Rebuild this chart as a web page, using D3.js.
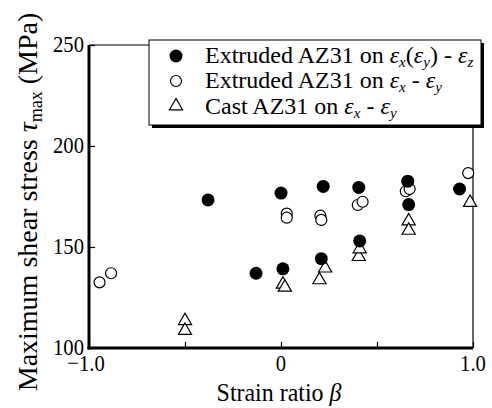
<!DOCTYPE html>
<html>
<head>
<meta charset="utf-8">
<script src="https://cdn.jsdelivr.net/npm/d3@7"></script>
</head>
<body style="margin:0; background:#fff">
<div id="main"></div>
<script>
// Extruded AZ31 on ex(ey) - ez  (filled circles)
var filledBeta = [-0.38, 0.0, -0.13, 0.01, 0.22, 0.405, 0.66, 0.665, 0.93, 0.21, 0.41];
var filledTau  = [173.3, 176.7, 137.0, 139.2, 180.0, 179.5, 182.6, 171.0, 178.7, 144.2, 153.0];

// Extruded AZ31 on ex - ey  (open circles)
var openBeta = [-0.945, -0.885, 0.03, 0.03, 0.205, 0.21, 0.40, 0.425, 0.65, 0.67, 0.975];
var openTau  = [132.5, 137.0, 166.5, 164.5, 165.5, 163.4, 170.8, 172.4, 177.6, 178.7, 186.6];

// Cast AZ31 on ex - ey  (triangles)
var triBeta = [-0.50, -0.50, 0.01, 0.02, 0.20, 0.23, 0.405, 0.41, 0.665, 0.665, 0.985];
var triTau  = [113.5, 108.6, 131.5, 130.0, 133.7, 139.5, 145.2, 149.0, 162.8, 158.2, 172.0];

var xTicks = [-1, -0.5, 0, 0.5, 1];
var xTickLabels = ["\u22121.0", "", "0", "", "1.0"];
var yTicks = [100, 150, 200, 250];

var FONT = "'Liberation Serif', 'Times New Roman', serif";

var W = 492, H = 408;
var margin = { top: 45, left: 89, right: 19, bottom: 60 };
var w = W - margin.left - margin.right,
    h = H - margin.top - margin.bottom;

var svg = d3.select("#main")
  .append("svg")
  .attr("width", W)
  .attr("height", H)
  .style("font-family", FONT);

var g = svg.append("g")
  .attr("transform", "translate(" + margin.left + "," + margin.top + ")");

var x = d3.scaleLinear().domain([-1, 1]).range([0, w]);
var y = d3.scaleLinear().domain([100, 250]).range([h, 0]);

// inward ticks
var xAxis = d3.axisTop(x).tickValues(xTicks).tickSize(6).tickFormat("");
var yAxis = d3.axisRight(y).tickValues(yTicks).tickSize(6).tickFormat("");

g.append("g").attr("transform", "translate(0," + h + ")").call(xAxis)
  .call(function(s) { s.select(".domain").remove(); s.selectAll("line").attr("stroke-width", 1.2); });
g.append("g").call(yAxis)
  .call(function(s) { s.select(".domain").remove(); s.selectAll("line").attr("stroke-width", 1.2); });

// frame: thin top/right, thick left/bottom
g.append("line").attr("x1", 0).attr("x2", w).attr("y1", 0).attr("y2", 0)
  .attr("stroke", "#000").attr("stroke-width", 1.2);
g.append("line").attr("x1", w).attr("x2", w).attr("y1", 0).attr("y2", h)
  .attr("stroke", "#000").attr("stroke-width", 1.2);
g.append("line").attr("x1", 0).attr("x2", 0).attr("y1", 0).attr("y2", h + 1.5)
  .attr("stroke", "#000").attr("stroke-width", 3);
g.append("line").attr("x1", -1.5).attr("x2", w).attr("y1", h).attr("y2", h)
  .attr("stroke", "#000").attr("stroke-width", 3);

// tick labels (slightly condensed like the original)
g.selectAll(".xl").data(xTicks).enter().append("g")
  .attr("transform", function(d) { return "translate(" + (x(d) - (d < 0 ? 3 : 0)) + "," + (h + 23) + ") scale(0.86,1)"; })
  .append("text")
  .style("font-family", FONT)
  .attr("text-anchor", "middle")
  .attr("font-size", 24)
  .text(function(d, i) { return xTickLabels[i]; });

g.selectAll(".yl").data(yTicks).enter().append("g")
  .attr("transform", function(d) { return "translate(-5," + (y(d) + 7) + ") scale(0.86,1)"; })
  .append("text")
  .style("font-family", FONT)
  .attr("text-anchor", "end")
  .attr("font-size", 24)
  .text(function(d) { return d; });

// axis titles
var xt = svg.append("text")
  .style("font-family", FONT)
  .attr("transform", "translate(" + (margin.left + x(0) - 2) + ",401) scale(0.92,1)")
  .attr("text-anchor", "middle")
  .attr("font-size", 26);
xt.append("tspan").text("Strain ratio ");
xt.append("tspan").attr("font-style", "italic").text("\u03b2");

var yt = svg.append("text")
  .style("font-family", FONT)
  .attr("transform", "translate(37,202) rotate(-90)")
  .attr("text-anchor", "middle")
  .attr("font-size", 28);
yt.append("tspan").text("Maximum shear stress ");
yt.append("tspan").attr("font-style", "italic").text("\u03c4");
yt.append("tspan").attr("font-size", 18).attr("dy", 5).text("max");
yt.append("tspan").attr("dy", -5).text(" (MPa)");

// points
var tri = d3.symbol().type(d3.symbolTriangle).size(75);

g.selectAll(".tri").data(triBeta).enter().append("path")
  .attr("d", tri)
  .attr("transform", function(d, i) { return "translate(" + x(d) + "," + y(triTau[i]) + ")"; })
  .attr("fill", "#fff").attr("stroke", "#000").attr("stroke-width", 1.2);

g.selectAll(".open").data(openBeta).enter().append("circle")
  .attr("cx", function(d) { return x(d); })
  .attr("cy", function(d, i) { return y(openTau[i]); })
  .attr("r", 5.5)
  .attr("fill", "#fff").attr("stroke", "#000").attr("stroke-width", 1.2);

g.selectAll(".filled").data(filledBeta).enter().append("circle")
  .attr("cx", function(d) { return x(d); })
  .attr("cy", function(d, i) { return y(filledTau[i]); })
  .attr("r", 6.5)
  .attr("fill", "#000");

// legend
var lg = svg.append("g");
lg.append("rect").attr("x", 152).attr("y", 43).attr("width", 332).attr("height", 85).attr("fill", "#000");
lg.append("rect").attr("x", 149).attr("y", 40).attr("width", 332).attr("height", 85)
  .attr("fill", "#fff").attr("stroke", "#000").attr("stroke-width", 1);

var rows = [63, 88, 114];
lg.append("circle").attr("cx", 176).attr("cy", rows[0] - 7).attr("r", 6.5).attr("fill", "#000");
lg.append("circle").attr("cx", 176).attr("cy", rows[1] - 7).attr("r", 5.5)
  .attr("fill", "#fff").attr("stroke", "#000").attr("stroke-width", 1.2);
lg.append("path").attr("d", tri).attr("transform", "translate(176," + (rows[2] - 8) + ")")
  .attr("fill", "#fff").attr("stroke", "#000").attr("stroke-width", 1.2);

// legend label: parts are [text, kind] where kind "e" = italic epsilon with subscript
function label(yy, parts) {
  var t = lg.append("text").style("font-family", FONT)
    .attr("x", 205).attr("y", yy).attr("font-size", 24);
  var low = false;
  parts.forEach(function(p) {
    if (p[1] === "e") {
      t.append("tspan").attr("font-style", "italic").attr("dy", low ? -4 : 0).text("\u03b5");
      t.append("tspan").attr("font-style", "italic").attr("font-size", 15).attr("dy", 4).text(p[0]);
      low = true;
    } else {
      t.append("tspan").attr("dy", low ? -4 : 0).text(p[0]);
      low = false;
    }
  });
}

label(rows[0], [["Extruded AZ31 on "], ["x", "e"], ["("], ["y", "e"], [") - "], ["z", "e"]]);
label(rows[1], [["Extruded AZ31 on "], ["x", "e"], [" - "], ["y", "e"]]);
label(rows[2], [["Cast AZ31 on "], ["x", "e"], [" - "], ["y", "e"]]);
</script>
</body>
</html>
